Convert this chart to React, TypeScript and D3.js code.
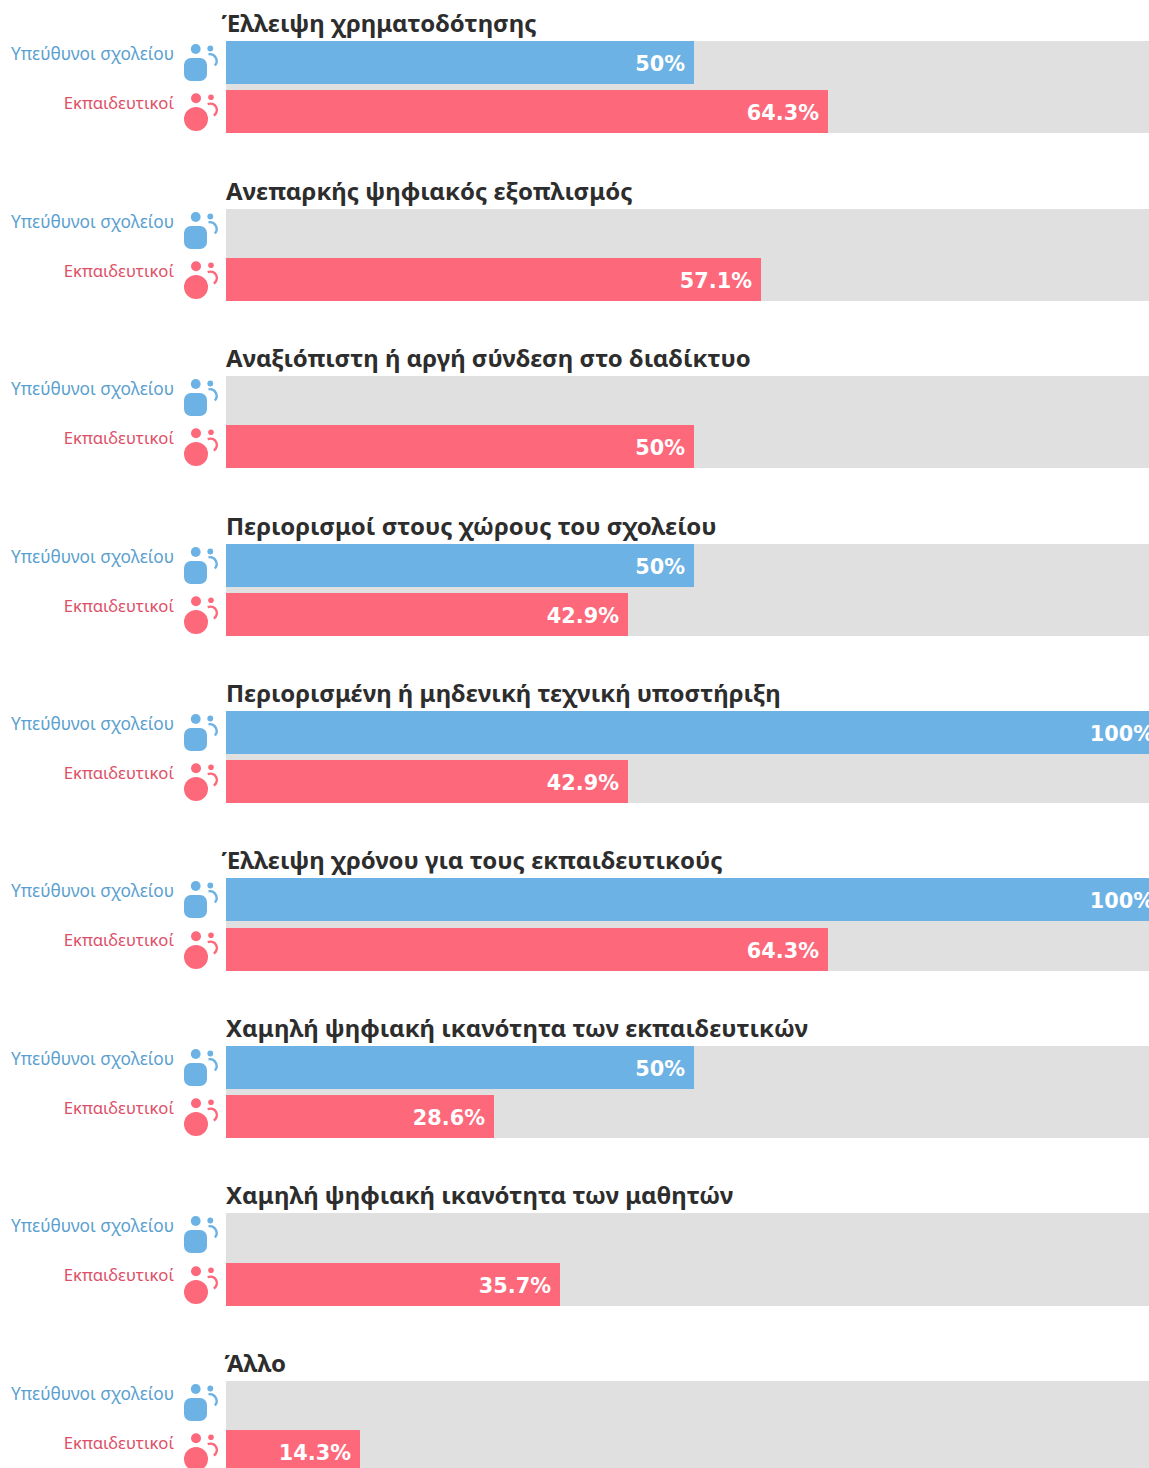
import React from "react";
import * as d3 from "d3";

const categories = [
  "Έλλειψη χρηματοδότησης",
  "Ανεπαρκής ψηφιακός εξοπλισμός",
  "Αναξιόπιστη ή αργή σύνδεση στο διαδίκτυο",
  "Περιορισμοί στους χώρους του σχολείου",
  "Περιορισμένη ή μηδενική τεχνική υποστήριξη",
  "Έλλειψη χρόνου για τους εκπαιδευτικούς",
  "Χαμηλή ψηφιακή ικανότητα των εκπαιδευτικών",
  "Χαμηλή ψηφιακή ικανότητα των μαθητών",
  "Άλλο",
];
const principals: (number | null)[] = [50, null, null, 50, 100, 100, 50, null, null];
const teachers: number[] = [64.3, 57.1, 50, 42.9, 42.9, 64.3, 28.6, 35.7, 14.3];
const seriesNames = ["Υπεύθυνοι σχολείου", "Εκπαιδευτικοί"];

const W = 1149;
const H = 1468;
const BLUE = "#6cb2e4";
const RED = "#fd687b";
const BLUE_TEXT = "#5a9fd0";
const RED_TEXT = "#de5068";
const FONT = "'DejaVu Sans', sans-serif";
const TEXT_FONT = "'Noto Sans', sans-serif";

const x = d3.scaleLinear().domain([0, 100]).range([226, 1162.8]);
const top = d3.scaleLinear().domain([0, 8]).range([41.2, 1380.8]);

function Bar({ y, v, fill }: { y: number; v: number | null; fill: string }) {
  if (v == null) return null;
  const end = Math.round(x(v));
  return (
    <g>
      <rect x={x(0)} y={y} width={end - x(0)} height={43} fill={fill} />
      <text x={end - 9} y={y + 29.5} textAnchor="end" fontFamily={FONT} fontWeight={700} fontSize={20.8} fill="#fff">
        {v}%
      </text>
    </g>
  );
}

function arcPath(r: number, a0: number, a1: number) {
  return d3.arc()({ innerRadius: r, outerRadius: r, startAngle: a0, endAngle: a1 }) as string;
}

function PrincipalIcon({ y }: { y: number }) {
  return (
    <g transform={`translate(0,${y})`} fill={BLUE}>
      <circle cx={195.7} cy={8} r={4.9} />
      <circle cx={210.3} cy={7.5} r={2.9} />
      <path d={arcPath(6.8, -0.2, 2.3)} transform="translate(209.8,20)" fill="none" stroke={BLUE} strokeWidth={2.4} strokeLinecap="round" />
      <rect x={184} y={17} width={23} height={23} rx={7} />
    </g>
  );
}

function TeacherIcon({ y }: { y: number }) {
  return (
    <g transform={`translate(0,${y})`} fill={RED}>
      <circle cx={196} cy={8.3} r={5} />
      <circle cx={211} cy={7.2} r={2.8} />
      <path d={arcPath(6.4, -0.45, 2.6)} transform="translate(210.5,20)" fill="none" stroke={RED} strokeWidth={2.4} strokeLinecap="round" />
      <circle cx={196} cy={29} r={12} />
    </g>
  );
}

const titleShift = (c: string) => (c.startsWith("Έ") ? -4.5 : c.startsWith("Ά") ? -1.5 : 0);

export default function App() {
  return (
    <svg width={W} height={H} viewBox={`0 0 ${W} ${H}`} style={{ position: "absolute", left: 0, top: 0, display: "block" }}>
      <defs>
        <clipPath id="page"><rect x={0} y={0} width={W} height={H} /></clipPath>
      </defs>
      <g clipPath="url(#page)">
        {categories.map((c, i) => {
          const t = top(i);
          const tr = Math.round(t);
          const r = Math.round(t + 49.2);
          return (
            <g key={c}>
              <text x={226 + titleShift(c)} y={tr - 9} fontFamily={TEXT_FONT} fontWeight={700} fontSize={24} fill="#2d2d2d">{c}</text>
              <rect x={226} y={tr} width={W - 226} height={r + 43 - tr} fill="#e0e0e0" />
              <Bar y={tr} v={principals[i]} fill={BLUE} />
              <Bar y={r} v={teachers[i]} fill={RED} />
              <text x={174} y={tr + 18.5} textAnchor="end" fontFamily={TEXT_FONT} fontSize={17.3} fill={BLUE_TEXT}>{seriesNames[0]}</text>
              <text x={174} y={tr + 67.5} textAnchor="end" fontFamily={TEXT_FONT} fontSize={16.7} fill={RED_TEXT}>{seriesNames[1]}</text>
              <PrincipalIcon y={tr} />
              <TeacherIcon y={r} />
            </g>
          );
        })}
      </g>
    </svg>
  );
}
